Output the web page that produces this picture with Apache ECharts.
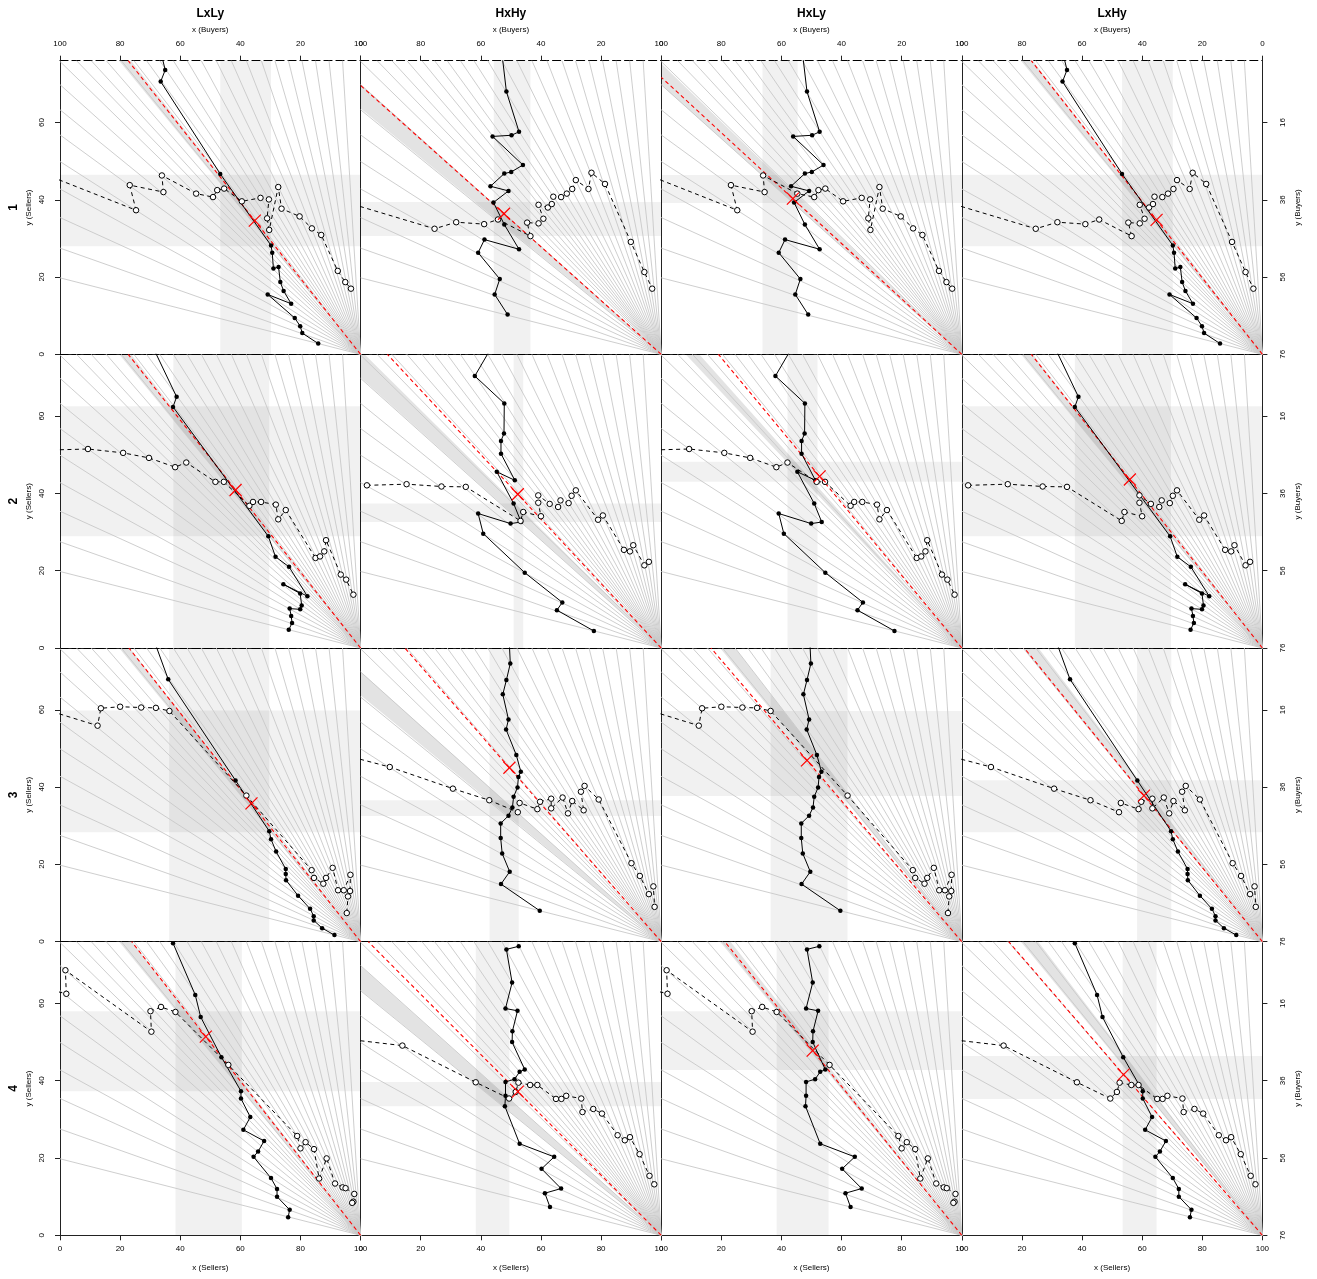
<!DOCTYPE html>
<html>
<head>
<meta charset="utf-8">
<script src="https://cdn.jsdelivr.net/npm/echarts@6/dist/echarts.min.js"></script>
<style>
  html, body { margin: 0; padding: 0; background: #fff; }
  #main { width: 1317px; height: 1279px; }
</style>
</head>
<body>
<div id="main"></div>
<script>
// panel columns (treatments) and axis ticks
var colNames = ['LxLy', 'HxHy', 'HxLy', 'LxHy'];
var rowNames = ['1', '2', '3', '4'];
var xTicks = [0, 20, 40, 60, 80, 100];
var yTicks = [0, 20, 40, 60];
var xTotal = 100, yTotal = 76;

// budget lines from the endowment (100,0): where they hit the left edge / top edge
var fanLeftY = [19.8, 27.5, 35.4, 42.8, 49.9, 56.8, 63.3, 69.8, 75.8];
var fanTopX = [5.5, 10.4, 15.4, 20.4, 24.6, 28.8, 33.2, 37.7, 42.3, 47, 52, 57, 62, 67, 71.5, 76, 80.5, 85, 89.5, 94];

// row 1
var lx1 = [[33,80],[35,73.6],[33.5,70.6],[53.3,46.7],[70.2,28.2],[70.6,26.3],[71,22.2],[72.7,22.6],[73.3,18.7],[74.4,16.4],[76.9,13.1],[69.1,15.5],[78.1,9.4],[79.9,7.3],[80.6,5.5],[85.9,2.8]];
var ly1 = [[-5,46.6],[25.3,37.3],[23.2,43.8],[34.4,42],[33.9,46.3],[45.3,41.6],[50.9,40.7],[52.3,42.5],[54.6,42.9],[60.5,39.6],[66.7,40.5],[69.5,40.1],[68.9,35.2],[69.6,32.2],[72.6,43.3],[73.7,37.7],[79.7,35.7],[83.8,32.6],[86.9,30.9],[92.4,21.6],[94.9,18.7],[96.8,17]];
var hx1 = [[46.7,80],[48.5,68],[52.7,57.6],[50.2,56.7],[43.9,56.4],[54,49],[50.1,47.2],[47.8,46.8],[43.2,43.5],[49.2,42.3],[44.2,39.3],[47.8,33.6],[52.7,27.2],[41.2,29.7],[39.1,26.3],[46.3,19.5],[44.6,15.5],[48.9,10.3]];
var hy1 = [[-5,39.4],[24.6,32.5],[31.8,34.2],[41.1,33.7],[45.7,34.9],[56.5,30.6],[55.4,34.1],[59.2,33.9],[60.8,35.1],[59.2,38.7],[62.3,38],[63.6,38.9],[64.1,40.8],[66.7,40.7],[68.6,41.6],[70.4,42.8],[71.6,45.1],[75.8,42.8],[76.8,47],[81.3,44.1],[89.9,29.1],[94.4,21.3],[97,17]];

// row 2
var lx2 = [[29.6,80],[38.8,65],[37.6,62.4],[69.3,28.9],[71.7,23.6],[76.2,21],[82.3,13.4],[74.3,16.5],[79.9,14.1],[80.4,11],[79.9,10],[76.4,10.2],[76.9,8.3],[77.2,6.5],[76.1,4.7]];
var ly2 = [[-10,51.1],[9.3,51.5],[21,50.5],[29.6,49.2],[38.3,46.8],[42,48],[51.7,43],[54.5,43],[63,36.8],[64.2,37.8],[66.9,37.8],[71.8,37.1],[72.6,33.3],[75.1,35.7],[85,23.3],[86.5,23.7],[87.9,25],[88.5,27.9],[93.4,19],[95.2,17.7],[97.6,13.8]];
var hx2 = [[45.2,80],[38,70.4],[47.8,63.3],[47.7,55.5],[46.7,53.6],[46.7,50.3],[51.3,43.4],[45.3,45.6],[50.9,37.4],[53.4,32.6],[49.9,32.2],[39.1,34.8],[40.8,29.6],[54.6,19.5],[67.1,11.8],[65.3,9.8],[77.6,4.4]];
var hy2 = [[2.1,42.1],[15.3,42.4],[26.9,41.8],[35,41.7],[53.2,32.9],[54.1,35.2],[60,34.1],[59.1,37.6],[59.1,39.5],[62.9,37.3],[65.7,36.5],[66.5,38.2],[69.2,37.5],[70.2,39.4],[71.6,40.8],[79,33.2],[80.6,34.3],[87.6,25.4],[89.6,25],[90.7,26.6],[94.4,21.4],[95.9,22.3]];

// row 3
var lx3 = [[30.8,79],[36,67.9],[58.4,41.7],[69.6,28.6],[70.2,26.5],[71.9,23.3],[75.1,18.8],[75.1,17.5],[75.2,15.9],[79.2,11.9],[83.2,8.5],[84.4,6.6],[84.4,5.5],[87.2,3.5],[91.3,1.7]];
var ly3 = [[-5,60.1],[12.5,55.9],[13.6,60.4],[20,60.8],[27,60.6],[31.9,60.5],[36.4,59.7],[62,37.8],[83.7,18.5],[84.5,16.5],[87.6,15],[88.5,16.5],[90.7,19.1],[92.5,13.3],[94.4,13.3],[96.6,17.3],[96.5,13.1],[95.8,11.7],[95.4,7.4]];
var hx3 = [[49.3,80],[49.8,72],[48.5,67.7],[47.3,64],[49.2,57.5],[48.4,54.9],[51.8,48.3],[53.3,44],[52.5,42.6],[52.2,39.9],[50.9,37.5],[50.5,34.7],[49.2,32.6],[46.6,30.6],[46.6,26.8],[47.1,22.8],[49.6,18.1],[46.7,14.9],[59.6,8]];
var hy3 = [[-5,48.2],[9.7,45.2],[30.7,39.6],[42.8,36.6],[52.3,33.5],[52.9,35.9],[58.8,34.3],[59.7,36.2],[63.4,37],[63.4,34.5],[67.2,37.3],[69,33.2],[70.4,36.4],[74.2,34],[73.3,38.8],[74.5,40.3],[79.2,36.8],[90.1,20.3],[92.9,17],[95.9,12.3],[97.4,14.3],[97.8,9]];

// row 4
var lx4 = [[37.6,75.6],[45,62.2],[46.8,56.5],[53.7,46.1],[60.2,37.3],[60.2,35.4],[63.3,30.6],[61,27.3],[67.9,24.4],[65.9,21.7],[64.4,20.3],[70.2,14.8],[72.2,12],[72.2,10],[76.4,6.6],[75.9,4.7]];
var ly4 = [[-3,63.5],[2.1,62.5],[1.8,68.6],[30.4,52.7],[30.1,58],[33.6,59.1],[38.4,57.8],[56,44.1],[78.9,25.7],[80,22.5],[81.7,24.1],[84.5,22.3],[86.2,14.7],[88.7,19.9],[91.5,13.4],[94,12.4],[95,12.2],[97.9,10.7],[97.6,8.7],[97.2,8.4]];
var hx4 = [[52.6,74.8],[48.5,74],[50.4,65.4],[48.2,58.7],[52.2,58.1],[50.5,52.8],[50.4,50],[54.6,42.9],[52.9,42.3],[51.2,40.4],[48.2,39.7],[48.2,36.1],[48,33.4],[52.9,23.7],[64.4,20.3],[60.2,17.2],[66.7,12.1],[61.3,10.9],[63,7.3]];
var hy4 = [[-5,50.8],[13.9,49.1],[38.3,39.6],[49.4,35.4],[51.6,37.1],[52.5,39.5],[56.4,38.9],[58.8,38.9],[65,35.3],[66.8,35.3],[68.4,36.1],[73.4,35.4],[73.8,31.9],[77.4,32.7],[80.3,31.5],[85.5,25.9],[87.9,24.6],[89.6,25.4],[92.8,21],[96.1,15.4],[97.7,13.2]];

var lxRows = [lx1, lx2, lx3, lx4];
var hxRows = [hx1, hx2, hx3, hx4];
var lyRows = [ly1, ly2, ly3, ly4];
var hyRows = [hy1, hy2, hy3, hy4];

// shaded ranges per panel [row][col]
var vBands = [
    [[53.3,70.2],[44.3,56.5],[33.7,45.4],[53.3,70.2]],
    [[37.7,69.6],[50.9,54.1],[42,52],[37.6,69.6]],
    [[36.3,69.6],[42.9,52.6],[36.4,62],[58.3,69.7]],
    [[38.4,60.5],[38.3,49.5],[38.4,55.7],[53.5,64.8]]
];
var hBands = [
    [[28,46.5],[30.6,39.4],[39.2,46.4],[28,46.5]],
    [[28.9,62.6],[32.6,37.4],[43,48.2],[28.9,62.6]],
    [[28.3,59.8],[32.5,36.6],[37.7,59.7],[28.3,41.8]],
    [[37.3,58],[33.4,39.7],[42.8,58],[35.3,46.4]]
];
// price range (slope) of the grey wedge
var wedges = [
    [[0.946,0.995],[0.636,0.70],[0.697,0.753],[0.946,0.995]],
    [[0.946,0.995],[0.70,0.77],[0.827,0.87],[0.946,0.995]],
    [[0.946,0.99],[0.638,0.699],[0.945,1.007],[0.956,1.02]],
    [[0.946,1.0],[0.634,0.697],[0.945,0.988],[0.946,1.019]]
];
// equilibrium allocation (red cross)
var eqPoints = [
    [[64.8,34.6],[47.7,36.4],[43.8,40.3],[64.8,34.8]],
    [[58.4,40.9],[52.3,39.8],[52.7,44.4],[55.9,43.6]],
    [[63.7,35.8],[49.5,45],[48.5,46.9],[60.6,37.8]],
    [[48.5,51.4],[52.3,37.2],[50.4,47.8],[53.8,41.6]]
];

var solidByCol = [lxRows, hxRows, hxRows, lxRows];
var dashedByCol = [lyRows, hyRows, lyRows, hyRows];

var font = 'Liberation Sans, Arial, Helvetica, sans-serif';
var W = 300.6, H = 293.65, L0 = 60, T0 = 60.7;

function edgePoint(p) {
    // where a price line leaving (100,0) meets the box border
    if (p * xTotal <= yTotal) return [0, p * xTotal];
    return [xTotal - yTotal / p, yTotal];
}

function renderBand(params, api) {
    var a = api.coord([api.value(0), api.value(3)]);
    var b = api.coord([api.value(1), api.value(2)]);
    return {
        type: 'rect',
        shape: {x: a[0], y: a[1], width: b[0] - a[0], height: b[1] - a[1]},
        style: {fill: 'rgba(0,0,0,0.055)'}
    };
}

function renderWedge(params, api) {
    var e1 = edgePoint(api.value(0)), e2 = edgePoint(api.value(1));
    var pts = [[xTotal, 0], e1];
    if (e1[0] === 0 && e2[1] === yTotal) pts.push([0, yTotal]);
    pts.push(e2);
    return {
        type: 'polygon',
        shape: {points: pts.map(function (d) { return api.coord(d); })},
        style: {fill: 'rgba(0,0,0,0.11)'}
    };
}

function renderFan(params, api) {
    var a = api.coord([xTotal, 0]);
    var b = api.coord([api.value(0), api.value(1)]);
    return {
        type: 'line',
        shape: {x1: a[0], y1: a[1], x2: b[0], y2: b[1]},
        style: {stroke: '#c8c8c8', lineWidth: 0.9}
    };
}

function renderCross(params, api) {
    var c = api.coord([api.value(0), api.value(1)]);
    var s = 6;
    var st = {stroke: '#ff0000', lineWidth: 1.2};
    return {type: 'group', children: [
        {type: 'line', shape: {x1: c[0] - s, y1: c[1] - s, x2: c[0] + s, y2: c[1] + s}, style: st},
        {type: 'line', shape: {x1: c[0] - s, y1: c[1] + s, x2: c[0] + s, y2: c[1] - s}, style: st}
    ]};
}

var fanData = fanLeftY.map(function (y) { return [0, y]; })
    .concat(fanTopX.map(function (x) { return [x, yTotal]; }));

var grids = [], xAxes = [], yAxes = [], series = [], graphics = [];
var labelStyle = {fontSize: 8, color: '#000', fontFamily: font};
var nameStyle = {fontSize: 8, color: '#000', fontFamily: font};

for (var r = 0; r < 4; r++) {
    for (var c = 0; c < 4; c++) {
        var g = r * 4 + c;
        grids.push({left: L0 + c * W, top: T0 + r * H, width: W, height: H});

        // bottom / top x axes
        xAxes.push({
            type: 'value', gridIndex: g, position: 'bottom', min: 0, max: xTotal,
            axisLine: {show: true, onZero: false, lineStyle: {color: '#222', width: 1}},
            axisTick: {show: r === 3, length: 5, customValues: xTicks, lineStyle: {color: '#222'}},
            axisLabel: Object.assign({show: r === 3, margin: 9, customValues: xTicks}, labelStyle),
            splitLine: {show: false},
            name: r === 3 ? 'x (Sellers)' : '', nameLocation: 'middle', nameGap: 28, nameTextStyle: nameStyle
        });
        xAxes.push({
            type: 'value', gridIndex: g, position: 'top', min: 0, max: xTotal,
            axisLine: {show: true, onZero: false, lineStyle: {color: '#000', width: 1.2, type: [8, 4]}},
            axisTick: {show: r === 0, length: 5, customValues: xTicks, lineStyle: {color: '#222'}},
            axisLabel: Object.assign({show: r === 0, margin: 13, customValues: xTicks,
                formatter: function (v) { return String(xTotal - v); }}, labelStyle),
            splitLine: {show: false},
            name: r === 0 ? 'x (Buyers)' : '', nameLocation: 'middle', nameGap: 27, nameTextStyle: nameStyle
        });

        // left / right y axes
        yAxes.push({
            type: 'value', gridIndex: g, position: 'left', min: 0, max: yTotal,
            axisLine: {show: true, onZero: false, lineStyle: {color: '#222', width: 1}},
            axisTick: {show: c === 0, length: 5, customValues: yTicks, lineStyle: {color: '#222'}},
            axisLabel: Object.assign({show: c === 0, margin: 14, rotate: 90, customValues: yTicks}, labelStyle),
            splitLine: {show: false},
            name: c === 0 ? 'y (Sellers)' : '', nameLocation: 'middle', nameGap: 27, nameRotate: 90,
            nameTextStyle: nameStyle
        });
        yAxes.push({
            type: 'value', gridIndex: g, position: 'right', min: 0, max: yTotal,
            axisLine: {show: true, onZero: false, lineStyle: {color: '#222', width: 1}},
            axisTick: {show: c === 3, length: 5, customValues: yTicks, lineStyle: {color: '#222'}},
            axisLabel: Object.assign({show: c === 3, margin: 16, rotate: 90, customValues: yTicks,
                formatter: function (v) { return String(yTotal - v); }}, labelStyle),
            splitLine: {show: false},
            name: c === 3 ? 'y (Buyers)' : '', nameLocation: 'middle', nameGap: 31, nameRotate: 90,
            nameTextStyle: nameStyle
        });

        var xi = 2 * g, yi = 2 * g;
        var vb = vBands[r][c], hb = hBands[r][c], wd = wedges[r][c], eq = eqPoints[r][c];
        var price = eq[1] / (xTotal - eq[0]);

        series.push({
            type: 'custom', xAxisIndex: xi, yAxisIndex: yi, z: 1, silent: true,
            renderItem: renderBand,
            data: [[vb[0], vb[1], 0, yTotal], [0, xTotal, hb[0], hb[1]]]
        });
        series.push({
            type: 'custom', xAxisIndex: xi, yAxisIndex: yi, z: 2, silent: true,
            renderItem: renderWedge,
            data: [wd]
        });
        series.push({
            type: 'custom', xAxisIndex: xi, yAxisIndex: yi, z: 3, silent: true,
            renderItem: renderFan,
            data: fanData
        });
        series.push({
            type: 'line', xAxisIndex: xi, yAxisIndex: yi, z: 4, silent: true,
            data: [[xTotal, 0], edgePoint(price)],
            symbol: 'none',
            lineStyle: {color: '#ff0000', width: 1.1, type: [4, 3]}
        });
        series.push({
            type: 'line', xAxisIndex: xi, yAxisIndex: yi, z: 5, clip: true,
            data: solidByCol[c][r],
            symbol: 'circle', symbolSize: 4.5,
            itemStyle: {color: '#000'},
            lineStyle: {color: '#000', width: 1}
        });
        series.push({
            type: 'line', xAxisIndex: xi, yAxisIndex: yi, z: 5, clip: true,
            data: dashedByCol[c][r],
            symbol: 'circle', symbolSize: 5.5,
            itemStyle: {color: '#fff', borderColor: '#000', borderWidth: 1},
            lineStyle: {color: '#000', width: 1, type: [4, 3.5]}
        });
        series.push({
            type: 'custom', xAxisIndex: xi, yAxisIndex: yi, z: 6, silent: true,
            renderItem: renderCross,
            data: [eq]
        });
    }
}

for (var k = 0; k < 4; k++) {
    graphics.push({
        type: 'text', x: L0 + W * (k + 0.5), y: 14,
        style: {text: colNames[k], font: 'bold 12px ' + font, fill: '#000',
            textAlign: 'center', textVerticalAlign: 'middle'}
    });
    graphics.push({
        type: 'text', x: 14, y: T0 + H * (k + 0.5), rotation: Math.PI / 2,
        style: {text: rowNames[k], font: 'bold 12px ' + font, fill: '#000',
            textAlign: 'center', textVerticalAlign: 'middle'}
    });
}

var chart = echarts.init(document.getElementById('main'));
chart.setOption({
    animation: false,
    backgroundColor: '#fff',
    grid: grids,
    xAxis: xAxes,
    yAxis: yAxes,
    series: series,
    graphic: graphics
});
</script>
</body>
</html>
